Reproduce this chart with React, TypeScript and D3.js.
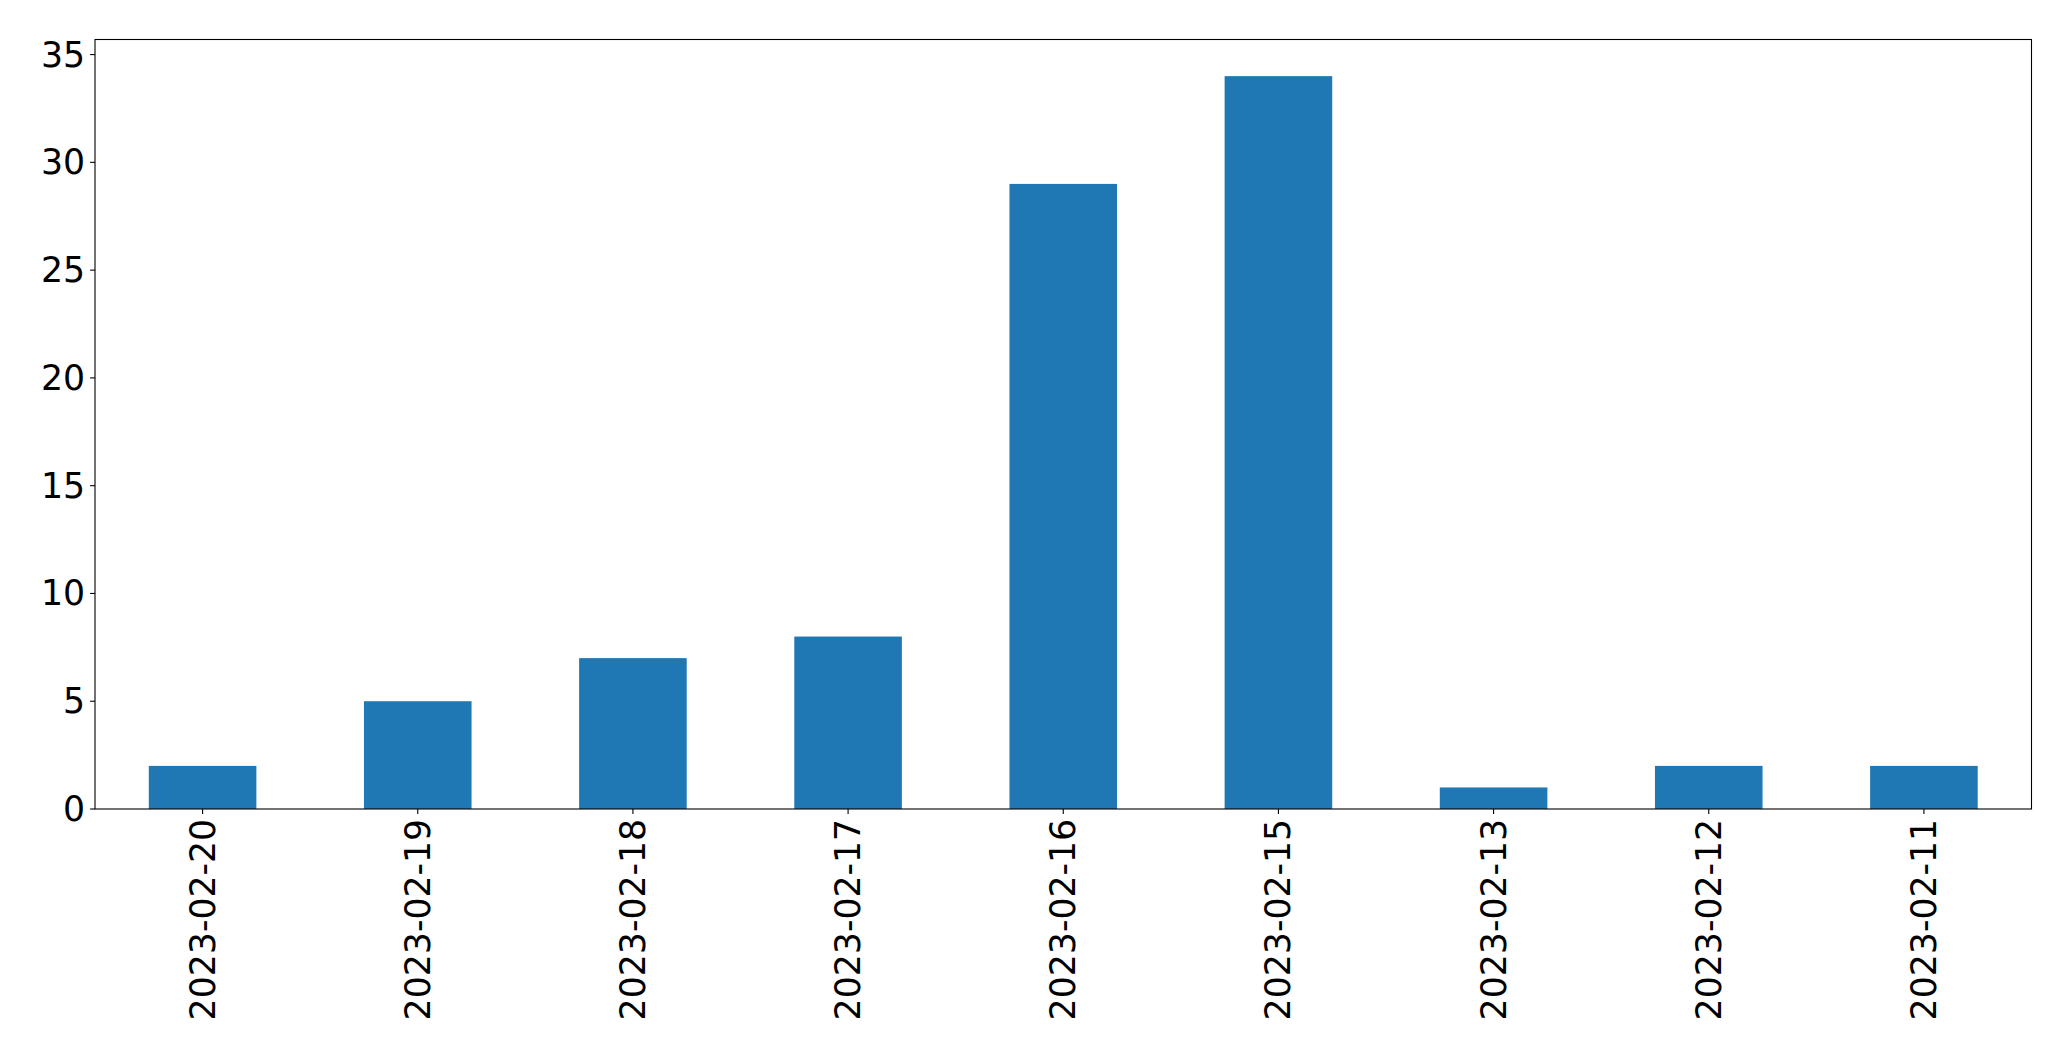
import React from "react";
import * as d3 from "d3";

const categories = ["2023-02-20","2023-02-19","2023-02-18","2023-02-17","2023-02-16","2023-02-15","2023-02-13","2023-02-12","2023-02-11"];
const values = [2, 5, 7, 8, 29, 34, 1, 2, 2];
const yTicks = [0, 5, 10, 15, 20, 25, 30, 35];

const W = 2071, H = 1061;
const L = 95, R = 2031.5, T = 39.5, B = 809;
const FS = 34.7;

export default function App() {
  const x = d3.scaleLinear().domain([-0.5, categories.length - 0.5]).range([L, R]);
  const ymax = d3.max(values)! * 1.05;
  const y = d3.scaleLinear().domain([0, ymax]).range([B, T]);
  const bw = x(0.25) - x(-0.25);
  return (
    <svg width={W} height={H} style={{ position: "absolute", left: 0, top: 0 }} fontFamily="DejaVu Sans">
      <rect x={0} y={0} width={W} height={H} fill="white" />
      {values.map((v, i) => (
        <rect key={i} x={x(i) - bw / 2} y={y(v)} width={bw} height={y(0) - y(v)} fill="#1f77b4" />
      ))}
      <rect x={L} y={T} width={R - L} height={B - T} fill="none" stroke="black" strokeWidth={1.1} />
      {yTicks.map((t) => (
        <g key={t}>
          <line x1={L - 4.9} x2={L} y1={y(t)} y2={y(t)} stroke="black" strokeWidth={1.1} />
          <text x={L - 9.8} y={y(t)} textAnchor="end" dominantBaseline="central" fontSize={FS}>{t}</text>
        </g>
      ))}
      {categories.map((c, i) => (
        <g key={c}>
          <line x1={x(i)} x2={x(i)} y1={B} y2={B + 4.9} stroke="black" strokeWidth={1.1} />
          <text transform={`translate(${x(i)},${B + 9.8}) rotate(-90)`} textAnchor="end" dominantBaseline="central" fontSize={FS}>{c}</text>
        </g>
      ))}
    </svg>
  );
}
